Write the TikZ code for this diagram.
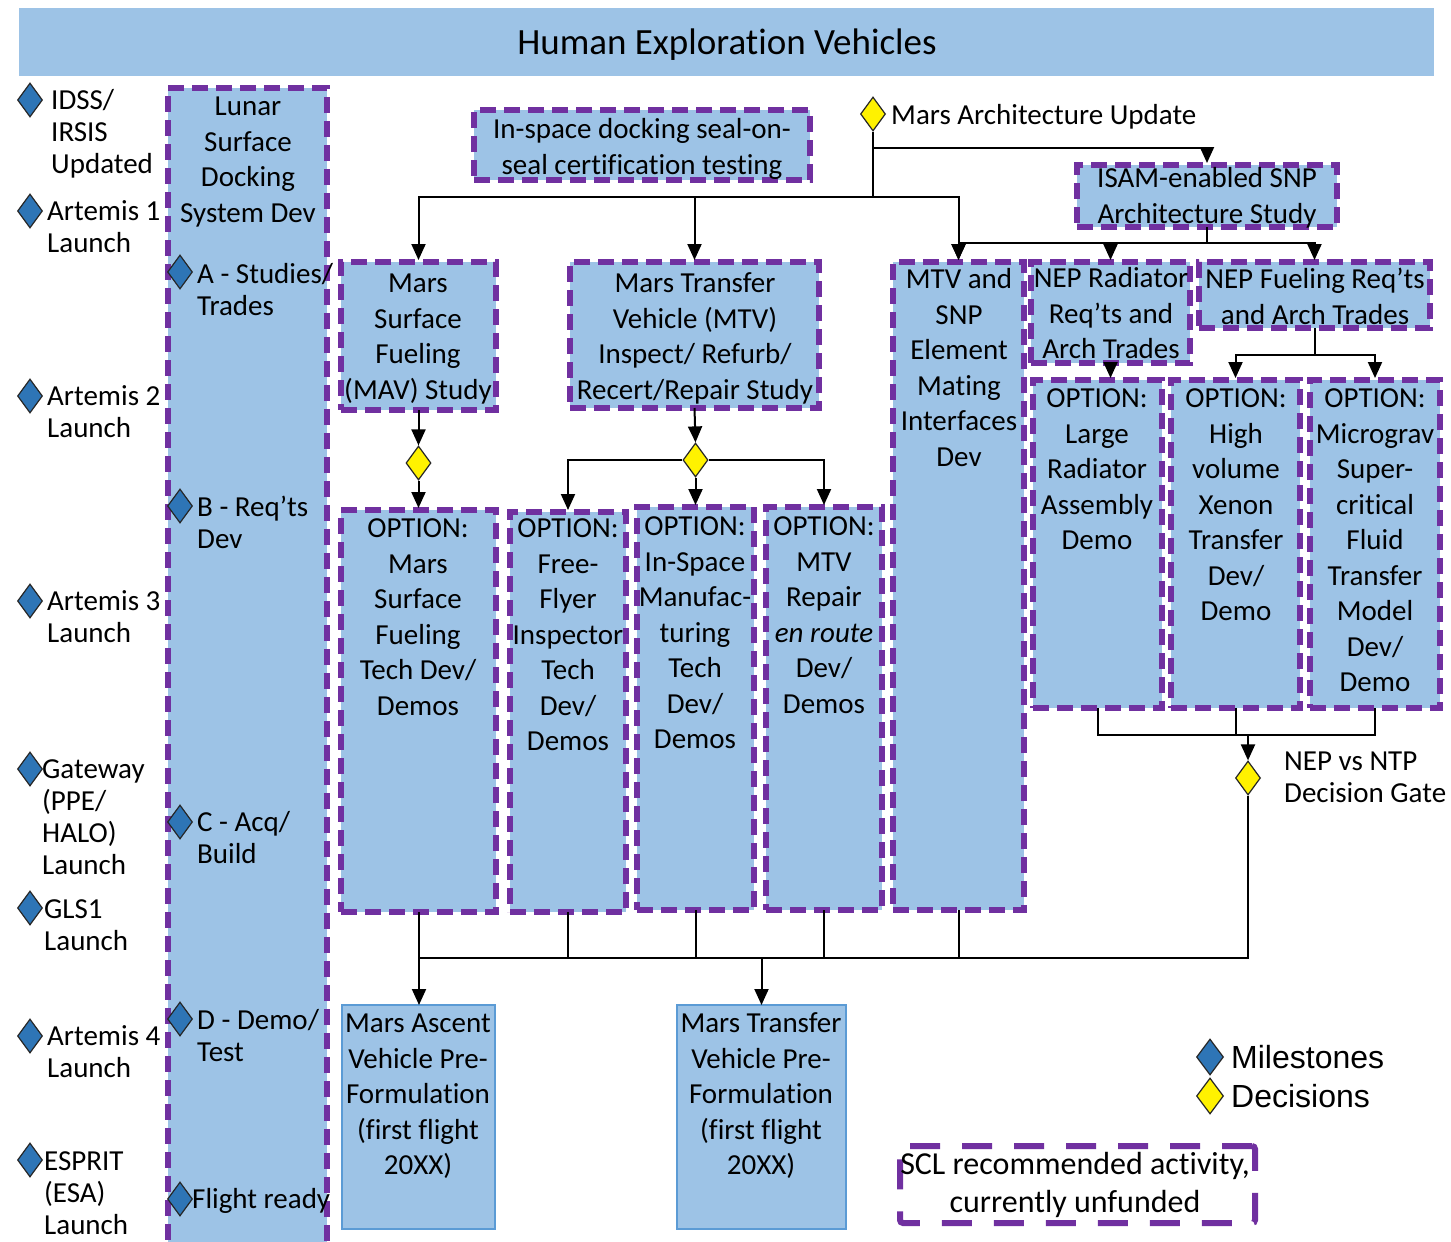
\documentclass[tikz,border=0pt]{standalone}
\usepackage{fontspec}
\setmainfont{Carlito}[Ligatures={NoCommon}]
\newfontfamily\arialf{Liberation Sans}
\usetikzlibrary{arrows.meta,shapes.geometric}
\definecolor{lblue}{RGB}{157,195,230}
\definecolor{purp}{RGB}{112,48,160}
\definecolor{mblue}{RGB}{46,117,182}
\definecolor{sblue}{RGB}{91,155,213}
\begin{document}
\begin{tikzpicture}[x=1pt,y=-1pt,
  box/.style={rectangle, draw=purp, line width=5.5pt, dash pattern=on 16pt off 8pt, fill=lblue, anchor=north west, inner sep=0pt, outer sep=0pt},
  sbox/.style={rectangle, draw=sblue, line width=1.5pt, fill=lblue, anchor=north west, inner sep=0pt, outer sep=0pt},
  txt/.style={font=\fontsize{29}{35.5}\selectfont, align=center, anchor=north, inner sep=0pt},
  mtxt/.style={font=\fontsize{29}{32}\selectfont, align=left, anchor=north west, inner sep=0pt},
  ms/.style={diamond, draw=black!85, fill=mblue, line width=1.2pt, minimum width=25pt, minimum height=34pt, inner sep=0pt},
  dec/.style={ms, fill=yellow},
  ln/.style={line width=2pt},
  arr/.style={ln, -{Triangle[length=16pt,width=14pt]}},
  arrb/.style={arr, shorten >=2pt}
]
\useasboundingbox (0,0) rectangle (1451,1242);
\fill[white] (0,0) rectangle (1451,1242);

% title bar
\node[rectangle, fill=lblue, anchor=north west, minimum width=1415pt, minimum height=68pt, inner sep=0pt] (bar) at (19,8) {};
\node[anchor=base, font=\fontsize{37}{44}\selectfont, inner sep=0pt] (titleT) at (727,54.8) {Human Exploration Vehicles};

% boxes
\node[box, minimum width=159pt, minimum height=1162pt] (lunar) at (168,88) {};
\node[box, minimum width=336pt, minimum height=70pt] (dock) at (474,110) {};
\node[box, minimum width=260pt, minimum height=62pt] (isam) at (1077,165) {};
\node[box, minimum width=155pt, minimum height=148pt] (msf) at (341,262) {};
\node[box, minimum width=249pt, minimum height=146pt] (mtv) at (570,262) {};
\node[box, minimum width=131pt, minimum height=648pt] (snp) at (893,262) {};
\node[box, minimum width=159pt, minimum height=101pt] (nepr) at (1031,262) {};
\node[box, minimum width=231pt, minimum height=66pt] (nepf) at (1199,262) {};
\node[box, minimum width=155pt, minimum height=402pt] (oms) at (341,510) {};
\node[box, minimum width=116pt, minimum height=400pt] (off) at (510,512) {};
\node[box, minimum width=117pt, minimum height=403pt] (oism) at (637,507) {};
\node[box, minimum width=116pt, minimum height=403pt] (orep) at (766,507) {};
\node[box, minimum width=129pt, minimum height=328pt] (lrad) at (1033,380) {};
\node[box, minimum width=129pt, minimum height=328pt] (hvx) at (1171,380) {};
\node[box, minimum width=130pt, minimum height=328pt] (mgv) at (1310,380) {};
\node[sbox, minimum width=153pt, minimum height=224pt] (mav) at (342,1005) {};
\node[sbox, minimum width=169pt, minimum height=224pt] (mtvp) at (677,1005) {};
\node[rectangle, draw=purp, line width=6pt, dash pattern=on 30pt off 22pt, rounded corners=3pt, anchor=north west, inner sep=0pt, minimum width=355pt, minimum height=77pt] (scl) at (897,1143) {};

% box texts
\node[txt] (lunarT) at (248,90.5) {\strut Lunar\\Surface\\Docking\\System Dev};
\node[txt] (dockT) at (642,113.5) {\strut In-space docking seal-on-\\seal certification testing};
\node[txt] (isamT) at (1207,162.5) {\strut ISAM-enabled SNP\\Architecture Study};
\node[txt] (msfT) at (418,267.5) {\strut Mars\\Surface\\Fueling\\(MAV) Study};
\node[txt] (mtvT) at (695,267.5) {\strut Mars Transfer\\Vehicle (MTV)\\Inspect/ Refurb/\\Recert/Repair Study};
\node[txt] (snpT) at (959,263.5) {\strut MTV and\\SNP\\Element\\Mating\\Interfaces\\Dev};
\node[txt] (neprT) at (1111,262.5) {\strut NEP Radiator\\Req’ts and\\Arch Trades};
\node[txt] (nepfT) at (1315,263.5) {\strut NEP Fueling Req’ts\\and Arch Trades};
\node[txt] (omsT) at (418,512.5) {\strut OPTION:\\Mars\\Surface\\Fueling\\Tech Dev/\\Demos};
\node[txt] (offT) at (568,512.5) {\strut OPTION:\\Free-\\Flyer\\Inspector\\Tech\\Dev/\\Demos};
\node[txt] (oismT) at (695,510.5) {\strut OPTION:\\In-Space\\Manufac-\\turing\\Tech\\Dev/\\Demos};
\node[txt] (orepT) at (824,510.5) {\strut OPTION:\\MTV\\Repair\\\textit{en route}\\Dev/\\Demos};
\node[txt] (lradT) at (1097,382.5) {\strut OPTION:\\Large\\Radiator\\Assembly\\Demo};
\node[txt] (hvxT) at (1236,382.5) {\strut OPTION:\\High\\volume\\Xenon\\Transfer\\Dev/\\Demo};
\node[txt] (mgvT) at (1375,382.5) {\strut OPTION:\\Micrograv\\Super-\\critical\\Fluid\\Transfer\\Model\\Dev/\\Demo};
\node[txt] (mavT) at (418,1007.5) {\strut Mars Ascent\\Vehicle Pre-\\Formulation\\(first flight\\20XX)};
\node[txt] (mtvpT) at (761,1007.5) {\strut Mars Transfer\\Vehicle Pre-\\Formulation\\(first flight\\20XX)};
\node[txt, font=\fontsize{32}{38}\selectfont] (sclT) at (1075,1147.7) {\strut SCL recommended activity,\\currently unfunded};

% left milestones
\node[ms] (m1) at (30,100) {};
\node[ms] (m2) at (30,211) {};
\node[ms] (m3) at (30,396) {};
\node[ms] (m4) at (30,601) {};
\node[ms] (m5) at (30,769) {};
\node[ms] (m6) at (30,908) {};
\node[ms] (m7) at (30,1036) {};
\node[ms] (m8) at (30,1160) {};
\node[mtxt] (m1T) at (51,86.9) {\strut IDSS/\\IRSIS\\Updated};
\node[mtxt] (m2T) at (47,197.9) {\strut Artemis 1\\Launch};
\node[mtxt] (m3T) at (47,382.9) {\strut Artemis 2\\Launch};
\node[mtxt] (m4T) at (47,587.9) {\strut Artemis 3\\Launch};
\node[mtxt] (m5T) at (42,755.9) {\strut Gateway\\(PPE/\\HALO)\\Launch};
\node[mtxt] (m6T) at (44,895.9) {\strut GLS1\\Launch};
\node[mtxt] (m7T) at (47,1022.9) {\strut Artemis 4\\Launch};
\node[mtxt] (m8T) at (44,1147.9) {\strut ESPRIT\\(ESA)\\Launch};

% lane milestones
\node[ms] (la) at (180,272) {};
\node[ms] (lb) at (180,506) {};
\node[ms] (lc) at (180,822) {};
\node[ms] (ld) at (180,1019) {};
\node[ms] (le) at (180,1199) {};
\node[mtxt] (laT) at (197,260.9) {\strut A - Studies/\\Trades};
\node[mtxt] (lbT) at (197,493.9) {\strut B - Req’ts\\Dev};
\node[mtxt] (lcT) at (197,808.9) {\strut C - Acq/\\Build};
\node[mtxt] (ldT) at (197,1006.9) {\strut D - Demo/\\Test};
\node[mtxt] (leT) at (192,1185.9) {\strut Flight ready};

% decisions
\node[dec] (mau) at (873,114) {};
\node[anchor=base west, font=\fontsize{29}{35.5}\selectfont, inner sep=0pt] (mauT) at (891,124.3) {Mars Architecture Update};
\node[dec] (d1) at (418.5,463) {};
\node[dec] (d2) at (695.5,460) {};
\node[dec] (gate) at (1248,778) {};
\node[mtxt] (gateT) at (1284,747.9) {\strut NEP vs NTP\\Decision Gate};

% legend
\node[ms, minimum width=27pt, minimum height=36pt] (lgm) at (1210,1057) {};
\node[dec, minimum width=27pt, minimum height=36pt] (lgd) at (1210,1096) {};
\node[anchor=base west, font=\arialf\fontsize{32}{38}\selectfont, inner sep=0pt] (lgmT) at (1231,1068.5) {Milestones};
\node[anchor=base west, font=\arialf\fontsize{32}{38}\selectfont, inner sep=0pt] (lgdT) at (1231,1107.5) {Decisions};

% connectors
\coordinate (mauA) at (873,148);
\coordinate (mauB) at (873,197);
\draw[ln] (mau.south) -- (mauB);
\draw[arrb] (mauA) -| (isam.north);
\draw[arrb] (mauB) -| (msf.north);
\draw[arrb] (mauB) -| (mtv.north);
\draw[arrb] (mauB) -| (snp.north);

\coordinate (isB) at (1207,243);
\draw[ln] (isam.south) -- (isB);
\draw[arrb] (isB) -| (snp.north);
\draw[arrb] (isB) -| (nepr.north);
\draw[arrb] (isB) -| (nepf.north);

\draw[arrb] (nepr.south) -- (nepr.south |- lrad.north);
\coordinate (nfB) at (1314.5,355);
\draw[ln] (nepf.south) -- (nfB);
\draw[arrb] (nfB) -| (hvx.north);
\draw[arrb] (nfB) -| (mgv.north);

\draw[arr] (msf.south) -- (d1.north);
\draw[arrb] (d1.south) -- (oms.north);
\draw[arr] (mtv.south) -- (d2.north);
\draw[arrb] (d2.south) -- (oism.north);
\draw[arrb] (d2.west) -| (off.north);
\draw[arrb] (d2.east) -| (orep.north);

\coordinate (nB) at (1248,735);
\draw[ln] (lrad.south) |- (nB);
\draw[ln] (mgv.south) |- (nB);
\draw[ln] (hvx.south) -- (hvx.south |- nB);
\draw[arr] (nB) -- (gate.north);

\coordinate (gB) at (1248,958);
\coordinate (bL) at (419,958);
\coordinate (bM) at (761.5,958);
\draw[ln] (gate.south) -- (gB) -- (bL);
\draw[ln] (oms.south) -- (oms.south |- bL);
\draw[ln] (off.south) -- (off.south |- bL);
\draw[ln] (oism.south) -- (oism.south |- bL);
\draw[ln] (orep.south) -- (orep.south |- bL);
\draw[ln] (snp.south) -- (snp.south |- bL);
\draw[arr] (bL) -- (bL |- mav.north);
\draw[arr] (bM) -- (mtvp.north);
\end{tikzpicture}
\end{document}
